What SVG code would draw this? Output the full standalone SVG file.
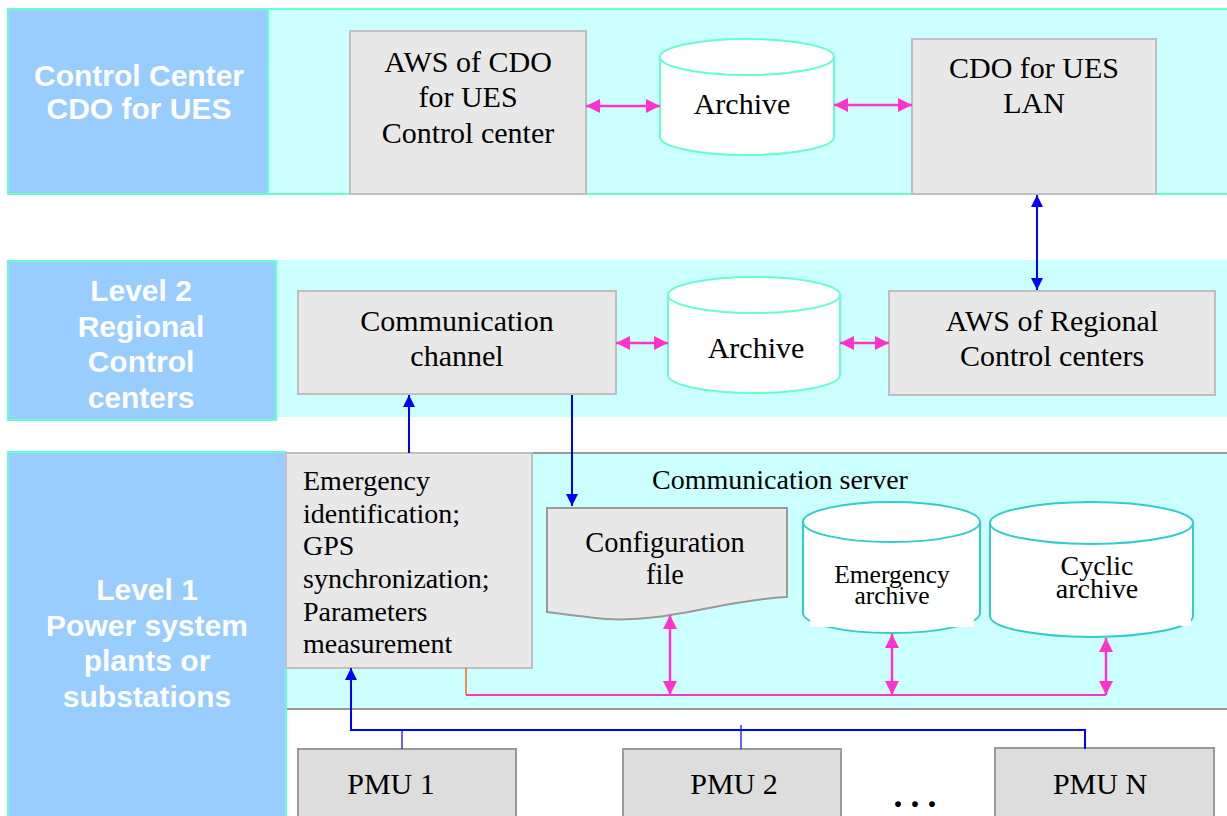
<svg xmlns="http://www.w3.org/2000/svg" width="1227" height="816" viewBox="0 0 1227 816">
<defs>
<style>
.panel{fill:#99CCFF;stroke:#66FFCC;stroke-width:2}
.band{fill:#CCFFFF}
.box{fill:#E8E8E8;stroke:#BFBFBF;stroke-width:2}
.pmu{fill:#DDDDDD;stroke:#999999;stroke-width:2}
.cyl{fill:#FFFFFF;stroke:#66FFCC;stroke-width:2}
.cyl3{fill:#FFFFFF;stroke:#33CCCC;stroke-width:2}
.lbl{font-family:"Liberation Sans",Arial,sans-serif;font-weight:bold;font-size:30px;fill:#FFFFFF;text-anchor:middle}
.t{font-family:"Liberation Serif","Times New Roman",serif;font-size:30px;fill:#000000;text-anchor:middle}
.tl{font-family:"Liberation Serif","Times New Roman",serif;font-size:28px;fill:#000000}
.pink{stroke:#FF33CC;stroke-width:2.5;fill:none}
.blue{stroke:#0000FF;stroke-width:2;fill:none}
.bthin{stroke:#0000FF;stroke-width:1.2;fill:none}
</style>
<marker id="ap" viewBox="0 0 14 14" refX="14" refY="7" markerWidth="14" markerHeight="14" markerUnits="userSpaceOnUse" orient="auto-start-reverse"><path d="M0,0 L14,7 L0,14 z" fill="#FF33CC"/></marker>
<marker id="ab" viewBox="0 0 12 12" refX="12" refY="6" markerWidth="12" markerHeight="12" markerUnits="userSpaceOnUse" orient="auto-start-reverse"><path d="M0,0 L12,6 L0,12 z" fill="#0000FF"/></marker>
</defs>
<rect width="1227" height="816" fill="#FFFFFF"/>

<g id="band-control-center">
<rect x="268" y="9" width="962" height="185" class="band" stroke="#66FFCC" stroke-width="2"/>
<rect x="8" y="9" width="260" height="185" class="panel"/>
<text class="lbl" x="139" y="86">Control Center</text>
<text class="lbl" x="139" y="119">CDO for UES</text>
</g>

<g id="band-level2">
<rect x="276" y="260" width="951" height="157" class="band"/>
<rect x="8" y="261" width="268" height="159" class="panel"/>
<text class="lbl" x="141" y="301">Level 2</text>
<text class="lbl" x="141" y="337">Regional</text>
<text class="lbl" x="141" y="372">Control</text>
<text class="lbl" x="141" y="408">centers</text>
</g>

<g id="band-level1">
<rect x="286" y="453" width="941" height="256" class="band"/>
<line x1="286" y1="453" x2="1227" y2="453" stroke="#999999" stroke-width="2"/>
<line x1="286" y1="709" x2="1227" y2="709" stroke="#999999" stroke-width="2"/>
<rect x="8" y="452" width="278" height="366" class="panel"/>
<text class="lbl" x="147" y="600">Level 1</text>
<text class="lbl" x="147" y="636">Power system</text>
<text class="lbl" x="147" y="671">plants or</text>
<text class="lbl" x="147" y="707">substations</text>
</g>

<g id="aws-cdo">
<rect x="350" y="31" width="236" height="163" class="box"/>
<text class="t" x="468" y="72">AWS of CDO</text>
<text class="t" x="468" y="107">for UES</text>
<text class="t" x="468" y="143">Control center</text>
</g>

<g id="archive-1">
<path d="M660,57 V137 A87,18 0 0 0 834,137 V57" class="cyl"/>
<ellipse cx="747" cy="57" rx="87" ry="18" class="cyl"/>
<text class="t" x="742" y="114">Archive</text>
</g>

<g id="cdo-lan">
<rect x="912" y="39" width="244" height="155" class="box"/>
<text class="t" x="1034" y="78">CDO for UES</text>
<text class="t" x="1034" y="113">LAN</text>
</g>

<g id="comm-channel">
<rect x="298" y="291" width="318" height="103" class="box"/>
<text class="t" x="457" y="331">Communication</text>
<text class="t" x="457" y="366">channel</text>
</g>

<g id="archive-2">
<path d="M668,295 V375 A86,18 0 0 0 840,375 V295" class="cyl"/>
<ellipse cx="754" cy="295" rx="86" ry="18" class="cyl"/>
<text class="t" x="756" y="358">Archive</text>
</g>

<g id="aws-regional">
<rect x="889" y="291" width="326" height="104" class="box"/>
<text class="t" x="1052" y="331">AWS of Regional</text>
<text class="t" x="1052" y="366">Control centers</text>
</g>

<g id="emergency-box">
<rect x="286" y="453" width="246" height="215" class="box" stroke="#AAAAAA"/>
<text class="tl" x="303" y="490">Emergency</text>
<text class="tl" x="303" y="523">identification;</text>
<text class="tl" x="303" y="555">GPS</text>
<text class="tl" x="303" y="588">synchronization;</text>
<text class="tl" x="303" y="621">Parameters</text>
<text class="tl" x="303" y="653">measurement</text>
</g>

<g id="comm-server-label">
<text class="tl" x="780" y="489" text-anchor="middle">Communication server</text>
</g>

<g id="config-file">
<path d="M547,508 H787 V597 C722,600 668,623 606,619 C582,617 562,614 547,612 Z" fill="#E8E8E8" stroke="#999999" stroke-width="2"/>
<text class="t" x="665" y="552" style="font-size:28.4px">Configuration</text>
<text class="t" x="665" y="584" style="font-size:28.4px">file</text>
</g>

<g id="emergency-archive">
<path d="M803,522 V613 A88.5,20 0 0 0 980,613 V522" class="cyl3"/>
<ellipse cx="891.5" cy="522" rx="88.5" ry="20" class="cyl3"/>
<rect x="810" y="606" width="164" height="21" fill="#FFFFFF"/>
<text class="t" x="892" y="583" style="font-size:25.5px">Emergency</text>
<text class="t" x="892" y="604" style="font-size:25.5px">archive</text>
</g>

<g id="cyclic-archive">
<path d="M990,523 V616 A101.5,21 0 0 0 1193,616 V523" class="cyl3"/>
<ellipse cx="1091.5" cy="523" rx="101.5" ry="21" class="cyl3"/>
<rect x="1180" y="612" width="11" height="14" fill="#FFFFFF"/>
<text class="t" x="1097" y="575" style="font-size:28px">Cyclic</text>
<text class="t" x="1097" y="598" style="font-size:28px">archive</text>
</g>

<g id="pmu-1">
<rect x="298" y="749" width="218" height="80" class="pmu"/>
<text class="t" x="391" y="794">PMU 1</text>
</g>
<g id="pmu-2">
<rect x="623" y="749" width="218" height="80" class="pmu"/>
<text class="t" x="734" y="794">PMU 2</text>
</g>
<g id="pmu-n">
<rect x="995" y="748" width="219" height="80" class="pmu"/>
<text class="t" x="1100" y="794">PMU N</text>
</g>
<text x="919" y="807" font-family="'Liberation Serif','Times New Roman',serif" font-size="36" font-weight="bold" text-anchor="middle" letter-spacing="8">...</text>

<g id="connectors">
<line x1="586" y1="106" x2="660" y2="106" class="pink" marker-start="url(#ap)" marker-end="url(#ap)"/>
<line x1="834" y1="105" x2="912" y2="105" class="pink" marker-start="url(#ap)" marker-end="url(#ap)"/>
<line x1="616" y1="343" x2="668" y2="343" class="pink" marker-start="url(#ap)" marker-end="url(#ap)"/>
<line x1="840" y1="343" x2="889" y2="343" class="pink" marker-start="url(#ap)" marker-end="url(#ap)"/>
<line x1="1037" y1="195" x2="1037" y2="290" class="blue" marker-start="url(#ab)" marker-end="url(#ab)"/>
<line x1="409" y1="453" x2="409" y2="395" class="blue" marker-end="url(#ab)"/>
<line x1="572" y1="395" x2="572" y2="506" class="blue" marker-end="url(#ab)"/>
<polyline points="466,668 466,695" stroke="#FF6600" stroke-width="1.5" fill="none"/>
<line x1="466" y1="695" x2="1106" y2="695" stroke="#FF33CC" stroke-width="2" fill="none"/>
<line x1="670" y1="695" x2="670" y2="615" class="pink" marker-start="url(#ap)" marker-end="url(#ap)"/>
<line x1="892" y1="695" x2="892" y2="634" class="pink" marker-start="url(#ap)" marker-end="url(#ap)"/>
<line x1="1106" y1="695" x2="1106" y2="638" class="pink" marker-start="url(#ap)" marker-end="url(#ap)"/>
<polyline points="351,668 351,730 1085,730 1085,749" class="blue" stroke-width="2.5" marker-start="url(#ab)"/>
<line x1="402" y1="730" x2="402" y2="749" class="bthin"/>
<line x1="741" y1="725" x2="741" y2="749" class="bthin"/>
</g>
</svg>
